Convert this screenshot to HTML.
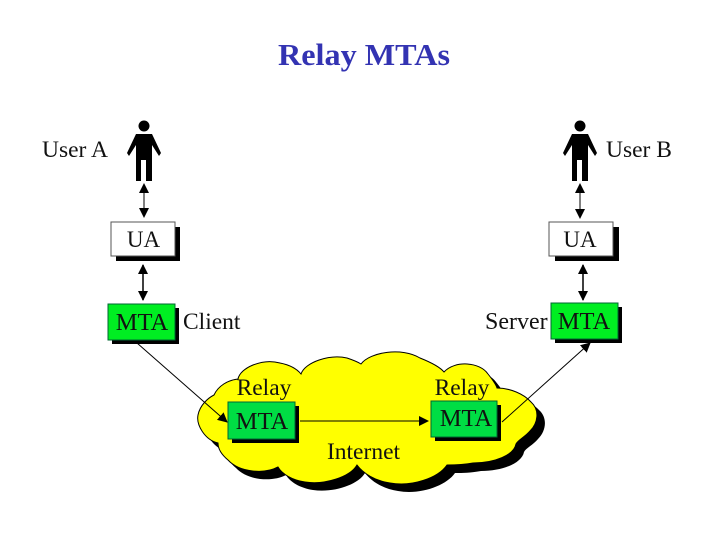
<!DOCTYPE html>
<html><head><meta charset="utf-8"><style>
html,body{margin:0;padding:0;background:#fff}
svg{display:block}
text{font-family:"Liberation Serif",serif;fill:#111}
</style></head><body>
<svg width="720" height="540" viewBox="0 0 720 540" xmlns="http://www.w3.org/2000/svg">
<defs>
<marker id="a" viewBox="0 0 10 10" refX="9" refY="5" markerWidth="10" markerHeight="10" markerUnits="userSpaceOnUse" orient="auto-start-reverse"><path d="M0 0L10 5L0 10Z" fill="#000"/></marker>
<path id="cloud" d="M198 415C200 405 208 398 214 395C218 386 228 380 238 379C240 368 262 358 280 363C290 365 297 369 301 374C305 362 330 354 347 358C353 360 358 362 361 364C370 352 402 347 420 358C430 362 440 367 444 372C455 360 480 362 488 374C492 379 496 384 497 388C510 388 524 394 531 402C540 410 538 423 530 431C525 437 518 440 516 444C514 455 495 463 473 463C462 465 455 465 447 465C438 478 412 487 390 483C375 481 363 473 357 465C350 477 325 485 305 482C292 480 282 474 278 467C265 474 240 473 228 460C222 455 218 449 218 443C205 440 196 425 198 415Z"/>
<g id="person"><circle cx="0" cy="0" r="5.5" fill="#000"/><path d="M-8 8H8L17 27L15 30L8 19V55H2V34H-3V55H-8V19L-15 30L-17 27Z" fill="#000"/></g>
</defs>
<text x="364" y="65" text-anchor="middle" font-size="31" font-weight="700" textLength="172" lengthAdjust="spacingAndGlyphs" style="fill:#3333b2">Relay MTAs</text>

<use href="#person" x="144" y="126"/>
<use href="#person" x="580" y="126"/>
<text x="42" y="157" font-size="23.5">User A</text>
<text x="606" y="157" font-size="23.5">User B</text>

<path d="M144 184V217" stroke="#000" stroke-width="1" marker-start="url(#a)" marker-end="url(#a)"/>
<path d="M580 184V218" stroke="#000" stroke-width="1" marker-start="url(#a)" marker-end="url(#a)"/>
<path d="M143 265V300" stroke="#000" stroke-width="1.5" marker-start="url(#a)" marker-end="url(#a)"/>
<path d="M583 265V300" stroke="#000" stroke-width="1.5" marker-start="url(#a)" marker-end="url(#a)"/>

<rect x="116" y="227" width="64" height="34" fill="#000"/>
<rect x="111" y="222" width="64" height="34" fill="#fff" stroke="#555"/>
<text x="143.500" y="247" text-anchor="middle" font-size="23">UA</text>
<rect x="555" y="227" width="64" height="34" fill="#000"/>
<rect x="549" y="222" width="64" height="34" fill="#fff" stroke="#555"/>
<text x="580" y="247" text-anchor="middle" font-size="23">UA</text>

<rect x="112" y="308" width="67" height="36" fill="#000"/>
<rect x="108" y="304" width="67" height="36" fill="#00ee22" stroke="#063"/>
<text x="142" y="330" text-anchor="middle" font-size="24.500">MTA</text>
<text x="183" y="329" font-size="23.500">Client</text>
<rect x="555" y="307" width="67" height="36" fill="#000"/>
<rect x="551" y="303" width="67" height="36" fill="#00ee22" stroke="#063"/>
<text x="584" y="329" text-anchor="middle" font-size="24.500">MTA</text>
<text x="485" y="329" font-size="24">Server</text>

<use href="#cloud" x="8" y="8" fill="#000"/>
<use href="#cloud" fill="#ffff00" stroke="#000" stroke-width="1"/>

<path d="M137 343L227 422" stroke="#000" stroke-width="1" fill="none" marker-end="url(#a)"/>
<path d="M300 421H428" stroke="#000" stroke-width="1" fill="none" marker-end="url(#a)"/>
<path d="M502 422L590 343" stroke="#000" stroke-width="1" fill="none" marker-end="url(#a)"/>

<text x="264" y="395" text-anchor="middle" font-size="23.500">Relay</text>
<text x="462" y="395" text-anchor="middle" font-size="23.500">Relay</text>
<text x="363.500" y="459" text-anchor="middle" font-size="23.500">Internet</text>

<rect x="232" y="406" width="67" height="37" fill="#000"/>
<rect x="228" y="402" width="67" height="37" fill="#00dd44" stroke="#063"/>
<text x="262" y="429" text-anchor="middle" font-size="24.500">MTA</text>
<rect x="435" y="405" width="66" height="36" fill="#000"/>
<rect x="431" y="401" width="66" height="36" fill="#00dd44" stroke="#063"/>
<text x="466" y="426" text-anchor="middle" font-size="24.500">MTA</text>
</svg>
</body></html>
